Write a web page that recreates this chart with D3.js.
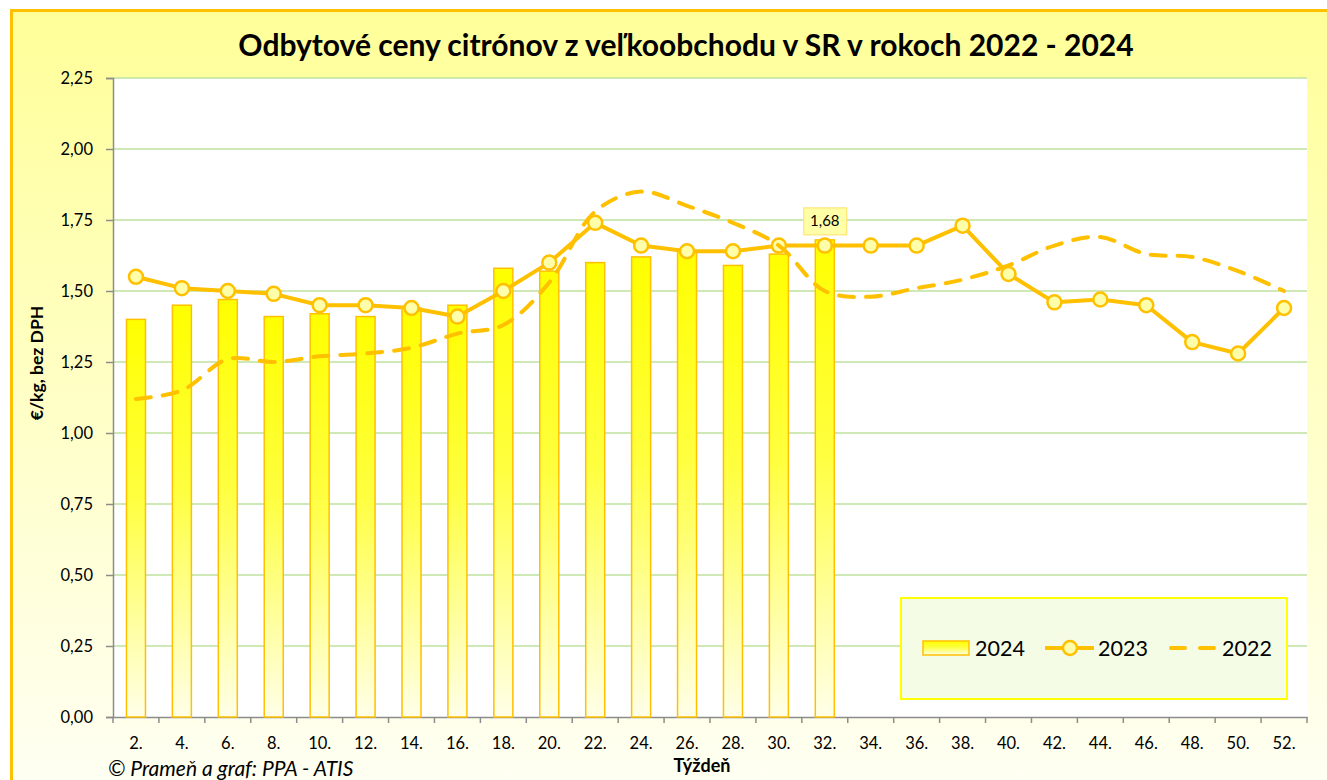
<!DOCTYPE html>
<html>
<head>
<meta charset="utf-8">
<script src="https://cdn.jsdelivr.net/npm/d3@7.9.0/dist/d3.min.js"></script>
<style>
  body { margin: 0; background: #fff; }
  svg { display: block; font-family: Lato, "Open Sans", sans-serif; }
</style>
</head>
<body>
<svg id="chart" width="1327" height="780"></svg>
<script>
/* ---- data ---- */
const weeks = ['2.', '4.', '6.', '8.', '10.', '12.', '14.', '16.', '18.', '20.', '22.', '24.', '26.',
               '28.', '30.', '32.', '34.', '36.', '38.', '40.', '42.', '44.', '46.', '48.', '50.', '52.'];

const prices2024 = [1.40, 1.45, 1.47, 1.41, 1.42, 1.41, 1.44, 1.45, 1.58, 1.57, 1.60, 1.62, 1.64,
                    1.59, 1.63, 1.68];

const prices2023 = [1.55, 1.51, 1.50, 1.49, 1.45, 1.45, 1.44, 1.41, 1.50, 1.60, 1.74, 1.66, 1.64,
                    1.64, 1.66, 1.66, 1.66, 1.66, 1.73, 1.56, 1.46, 1.47, 1.45, 1.32, 1.28, 1.44];

const prices2022 = [1.12, 1.15, 1.26, 1.25, 1.27, 1.28, 1.30, 1.35, 1.38, 1.53, 1.78, 1.85, 1.80,
                    1.74, 1.66, 1.50, 1.48, 1.51, 1.54, 1.59, 1.66, 1.69, 1.63, 1.62, 1.57, 1.50];

const yTicks = [0, 0.25, 0.5, 0.75, 1.0, 1.25, 1.5, 1.75, 2.0, 2.25];
const labelWeek = '32.';   // the one bar with a value label

const ORANGE = '#FFC000';
const fmt = v => d3.format('.2f')(v).replace('.', ',');

const svg = d3.select('#chart');
const defs = svg.append('defs');

/* background gradient: yellow on top fading to near white */
const bg = defs.append('linearGradient').attr('id', 'bg').attr('x1', 0).attr('y1', 0).attr('x2', 0).attr('y2', 1);
bg.append('stop').attr('offset', '0%').attr('stop-color', '#FFFF99');
bg.append('stop').attr('offset', '100%').attr('stop-color', '#FFFFF6');

const barGrad = defs.append('linearGradient').attr('id', 'barGrad').attr('x1', 0).attr('y1', 0).attr('x2', 0).attr('y2', 1);
barGrad.append('stop').attr('offset', '0%').attr('stop-color', '#FFFF00');
barGrad.append('stop').attr('offset', '45%').attr('stop-color', '#FFFF40');
barGrad.append('stop').attr('offset', '100%').attr('stop-color', '#FFFFE8');

svg.append('rect')
  .attr('x', 11.5).attr('y', 10.5).attr('width', 1340).attr('height', 800)
  .attr('fill', 'url(#bg)').attr('stroke', ORANGE).attr('stroke-width', 3);

/* ---- plot area ---- */
const m = { left: 113, right: 1307, top: 78, bottom: 717 };

const x = d3.scaleBand().domain(weeks).range([m.left, m.right]).padding(0);
const y = d3.scaleLinear().domain([0, 2.25]).range([m.bottom, m.top]);
const cx = w => x(w) + x.bandwidth() / 2;

svg.append('rect')
  .attr('x', m.left).attr('y', m.top)
  .attr('width', m.right - m.left).attr('height', m.bottom - m.top)
  .attr('fill', '#fff');

/* gridlines */
svg.append('g')
  .selectAll('line')
  .data(yTicks.filter(d => d > 0))
  .join('line')
    .attr('x1', m.left).attr('x2', m.right)
    .attr('y1', d => y(d)).attr('y2', d => y(d))
    .attr('stroke', '#BFE29E').attr('stroke-width', 1.5);

/* axes */
const yAxis = svg.append('g')
  .attr('transform', `translate(${m.left},0)`)
  .call(d3.axisLeft(y).tickValues(yTicks).tickFormat(fmt).tickSize(7).tickPadding(13));

const xAxis = svg.append('g')
  .attr('transform', `translate(0,${m.bottom})`)
  .call(d3.axisBottom(x).tickSize(0).tickPadding(20));

// category boundary ticks like Excel
xAxis.selectAll('.bound')
  .data(weeks.concat(['end']))
  .join('line')
    .attr('class', 'bound')
    .attr('x1', (d, i) => m.left + i * x.step()).attr('x2', (d, i) => m.left + i * x.step())
    .attr('y1', 0).attr('y2', 6)
    .attr('stroke', '#8C8C8C').attr('stroke-width', 1.5);

[yAxis, xAxis].forEach(g => {
  g.select('.domain').attr('stroke', '#8C8C8C').attr('stroke-width', 1.5);
  g.selectAll('.tick line').attr('stroke', '#8C8C8C').attr('stroke-width', 1.5);
  g.selectAll('.tick text').attr('font-size', 16.5).attr('fill', '#000').attr('font-family', 'Lato, sans-serif');
});

/* ---- 2024 bars ---- */
const barW = 19;
const bars2024 = prices2024.map((v, i) => ({ week: weeks[i], value: v }));

svg.append('g')
  .selectAll('rect')
  .data(bars2024)
  .join('rect')
    .attr('x', d => cx(d.week) - barW / 2)
    .attr('y', d => y(d.value))
    .attr('width', barW)
    .attr('height', d => y(0) - y(d.value))
    .attr('fill', 'url(#barGrad)')
    .attr('stroke', ORANGE).attr('stroke-width', 1.5);

/* ---- 2023 line with markers ---- */
const pts2023 = prices2023.map((v, i) => ({ week: weeks[i], value: v }));
const pts2022 = prices2022.map((v, i) => ({ week: weeks[i], value: v }));

const line = d3.line().x(d => cx(d.week)).y(d => y(d.value));
const smooth = d3.line().x(d => cx(d.week)).y(d => y(d.value)).curve(d3.curveCatmullRom.alpha(0.5));

svg.append('path')
  .datum(pts2023)
  .attr('d', line)
  .attr('fill', 'none').attr('stroke', ORANGE).attr('stroke-width', 4).attr('stroke-linejoin', 'round');

svg.append('g')
  .selectAll('circle')
  .data(pts2023)
  .join('circle')
    .attr('cx', d => cx(d.week)).attr('cy', d => y(d.value)).attr('r', 7)
    .attr('fill', '#FFFFAA').attr('stroke', ORANGE).attr('stroke-width', 2.5);

/* ---- 2022 smoothed dashed line ---- */
svg.append('path')
  .datum(pts2022)
  .attr('d', smooth)
  .attr('fill', 'none').attr('stroke', ORANGE).attr('stroke-width', 4)
  .attr('stroke-dasharray', '15,12').attr('stroke-linecap', 'round');

/* ---- data label 1,68 ---- */
const lab = bars2024.find(d => d.week === labelWeek);
const labG = svg.append('g').attr('transform', `translate(${cx(lab.week)},${y(lab.value) - 19})`);
labG.append('rect')
  .attr('x', -21).attr('y', -13).attr('width', 43).attr('height', 27)
  .attr('fill', '#FFFFA8').attr('stroke', '#FFE066').attr('stroke-width', 1);
labG.append('text')
  .attr('text-anchor', 'middle').attr('dy', '0.35em')
  .attr('font-size', 15).text(fmt(lab.value));

/* ---- title & axis titles ---- */
svg.append('text')
  .attr('x', 686).attr('y', 56)
  .attr('text-anchor', 'middle')
  .attr('font-size', 30).attr('font-weight', 'bold')
  .text('Odbytové ceny citrónov z veľkoobchodu v SR v rokoch 2022 - 2024');

svg.append('text')
  .attr('transform', 'translate(43,363) rotate(-90)')
  .attr('text-anchor', 'middle')
  .attr('font-size', 17.5).attr('font-weight', 'bold')
  .text('€/kg, bez DPH');

svg.append('text')
  .attr('x', 702).attr('y', 772)
  .attr('text-anchor', 'middle')
  .attr('font-size', 18).attr('font-weight', 'bold')
  .text('Týždeň');

svg.append('text')
  .attr('x', 108).attr('y', 776)
  .attr('font-size', 21).attr('font-style', 'italic')
  .text('© Prameň a graf: PPA - ATIS');

/* ---- legend ---- */
const lg = svg.append('g').attr('transform', 'translate(901,598)');
lg.append('rect')
  .attr('width', 386).attr('height', 101)
  .attr('fill', '#F4FCE6').attr('stroke', '#FFFF00').attr('stroke-width', 2);

const ly = 50;
lg.append('rect')
  .attr('x', 22).attr('y', ly - 7).attr('width', 46).attr('height', 14)
  .attr('fill', 'url(#barGrad)').attr('stroke', ORANGE).attr('stroke-width', 1.5);
lg.append('text').attr('x', 74).attr('y', ly).attr('dy', '0.35em').attr('font-size', 21.5).text('2024');

lg.append('line').attr('x1', 144).attr('x2', 193).attr('y1', ly).attr('y2', ly)
  .attr('stroke', ORANGE).attr('stroke-width', 4);
lg.append('circle').attr('cx', 169).attr('cy', ly).attr('r', 7)
  .attr('fill', '#FFFFAA').attr('stroke', ORANGE).attr('stroke-width', 2.5);
lg.append('text').attr('x', 197).attr('y', ly).attr('dy', '0.35em').attr('font-size', 21.5).text('2023');

lg.append('line').attr('x1', 270).attr('x2', 314).attr('y1', ly).attr('y2', ly)
  .attr('stroke', ORANGE).attr('stroke-width', 4).attr('stroke-dasharray', '14,15').attr('stroke-linecap', 'round');
lg.append('text').attr('x', 321).attr('y', ly).attr('dy', '0.35em').attr('font-size', 21.5).text('2022');
</script>
</body>
</html>
